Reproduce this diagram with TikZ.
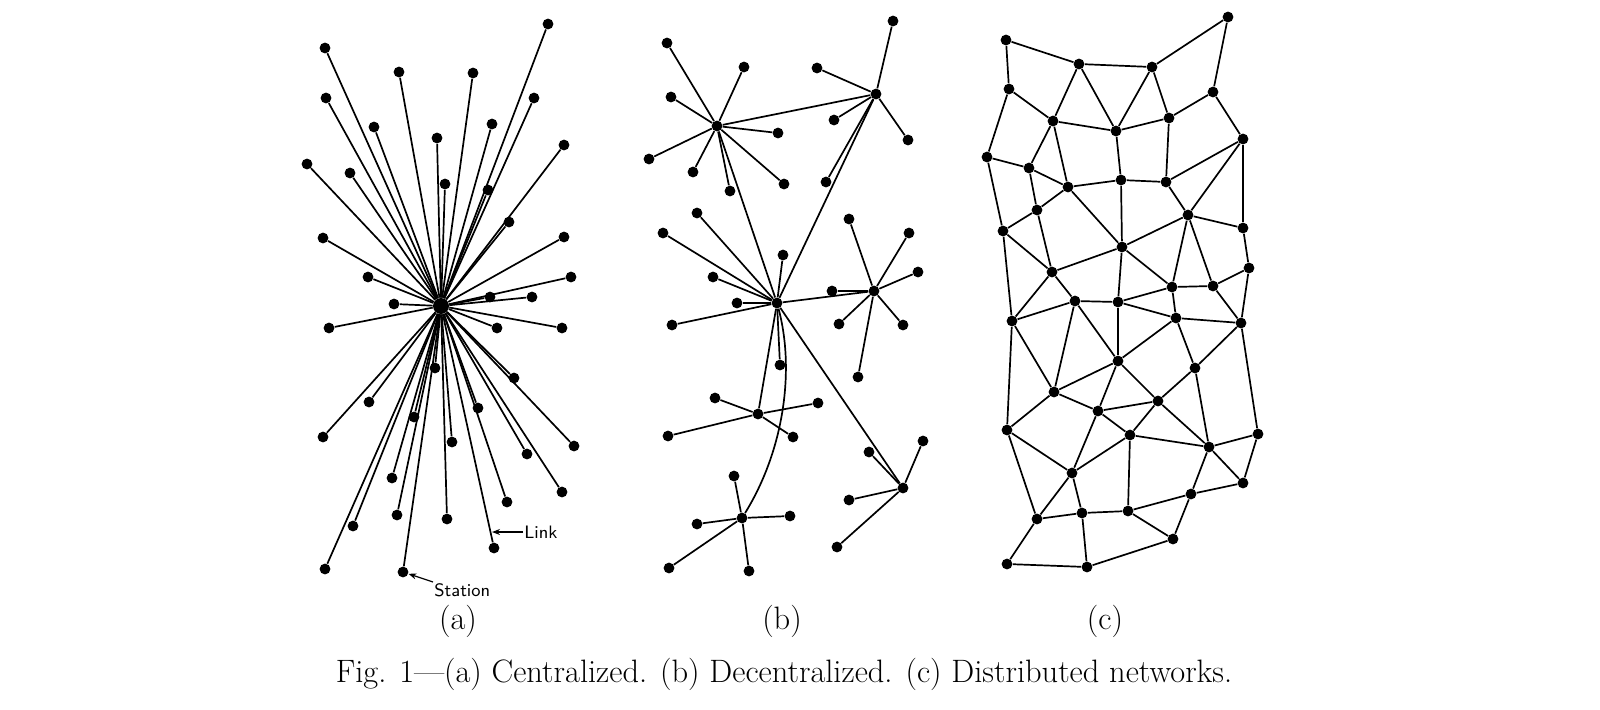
\documentclass[tikz,border=0pt]{standalone}
\usetikzlibrary{arrows.meta}
\tikzset{
  station/.style={circle, fill=black, inner sep=0pt, minimum size=5.4pt},
  link/.style={line width=0.85pt},
  tag/.style={font=\sffamily\fontsize{9}{10}\selectfont, inner sep=0.5pt},
  pointer/.style={line width=0.6pt, -{Stealth[length=4pt,width=3pt]}},
  caption/.style={font=\fontsize{16.2}{18}\selectfont, inner sep=0pt},
}
\begin{document}
\begin{tikzpicture}[x=0.5pt, y=-0.5pt]
  \useasboundingbox (0,0) rectangle (1600,709);

  % (a) centralized: every station wired to the hub
  \node[station, minimum size=8pt] (hub) at (441,306) {};
  \foreach \x/\y [count=\i] in {325/48, 548/24, 399/72, 473/73, 326/98, 534/98,
      374/127, 492/124, 437/138, 564/145, 307/164, 350/173, 445/184, 488/190,
      509/222, 323/238, 564/237, 368/277, 571/277, 490/297, 532/297, 394/304,
      329/328, 497/328, 562/328, 435/368, 514/378, 369/402, 414/417, 478/408,
      323/437, 452/442, 574/446, 527/454, 392/478, 562/492, 507/502, 397/515,
      447/519, 353/526, 494/548, 325/569, 403/572}{
    \node[station] (a\i) at (\x,\y) {};
    \draw[link] (hub) -- (a\i);
  }

  % Label one link and one station
  \coordinate (linkpt) at (492,532);
  \node[tag, anchor=west] (linktag) at (523,532) {Link};
  \draw[pointer] (linktag.west) -- (linkpt);
  \node[tag, anchor=north west] (stationtag) at (433,582) {Station};
  \draw[pointer] (stationtag.north west) -- (a43);

  % (b) decentralized: small stars joined hub to hub
  \def\cluster#1#2{%
    \foreach \x/\y [count=\i] in {#2}{
      \node[station] (#1s\i) at (\x,\y) {};
      \draw[link] (#1) -- (#1s\i);
    }}
  \foreach \n/\x/\y in {b1/717/126, b2/876/94, b3/777/303, b4/874/291,
      b5/758/414, b6/742/518, b7/903/488}
    \node[station] (\n) at (\x,\y) {};
  \cluster{b1}{667/43, 744/67, 671/97, 778/133, 649/159, 693/172, 730/191, 784/184}
  \cluster{b2}{893/21, 817/68, 834/120, 908/140, 826/182}
  \cluster{b3}{697/213, 663/233, 783/255, 713/277, 737/303, 672/325, 780/365}
  \cluster{b4}{849/219, 909/233, 918/272, 832/291, 839/324, 903/325, 858/377}
  \cluster{b5}{715/398, 818/403, 668/436, 793/437}
  \cluster{b6}{734/476, 697/524, 790/516, 669/568, 749/571}
  \cluster{b7}{869/452, 923/441, 849/500, 837/547}
  \draw[link] (b1) -- (b2) (b1) -- (b3) (b2) -- (b3)
              (b3) -- (b4) (b3) -- (b5) (b3) -- (b7);
  \draw[link] (b3) .. controls (795,370) and (784,450) .. (b6);

  % (c) distributed: a mesh, no hub at all
  \foreach \x/\y [count=\i] in {1006/40, 1228/17, 1079/64, 1152/67, 1009/89,
      1213/92, 1053/121, 1169/118, 1116/131, 1243/139, 987/157, 1029/168,
      1068/187, 1121/180, 1166/182, 1037/210, 1188/215, 1003/231, 1243/228,
      1122/247, 1052/272, 1249/268, 1172/287, 1213/286, 1075/301, 1118/302,
      1012/321, 1176/318, 1241/323, 1118/361, 1195/368, 1054/392, 1158/401,
      1098/411, 1007/430, 1130/435, 1258/434, 1209/447, 1072/473, 1243/483,
      1191/494, 1037/519, 1082/513, 1128/511, 1173/539, 1007/564, 1087/567}
    \node[station] (c\i) at (\x,\y) {};
  \foreach \u/\v in {1/5, 1/3, 3/4, 4/2, 2/6, 3/7, 3/9, 4/9, 4/8, 5/7, 5/11,
      7/9, 9/8, 8/6, 6/10, 7/12, 7/13, 9/14, 8/15, 11/12, 11/18, 12/13, 12/16,
      13/14, 14/15, 15/10, 10/17, 10/19, 15/17, 16/13, 16/18, 16/21, 13/20,
      14/20, 17/20, 17/19, 17/23, 17/24, 19/22, 18/21, 18/27, 20/21, 20/26,
      20/23, 21/25, 21/27, 22/24, 22/29, 23/24, 23/26, 23/28, 24/29, 25/26,
      25/27, 25/32, 25/30, 26/30, 26/28, 27/32, 27/35, 28/29, 28/31, 28/30,
      29/31, 29/37, 30/32, 30/34, 30/33, 31/33, 31/38, 32/34, 32/35, 34/33,
      34/36, 34/39, 33/36, 33/38, 36/38, 36/39, 36/44, 35/39, 35/42, 37/38,
      37/40, 38/40, 38/41, 39/42, 39/43, 42/43, 43/44, 44/41, 41/40, 44/45,
      41/45, 42/46, 43/47, 46/47, 47/45}
    \draw[link] (c\u) -- (c\v);

  % Panel letters and the figure caption
  \node[caption] (capa) at (458,621) {(a)};
  \node[caption] (capb) at (782,621) {(b)};
  \node[caption] (capc) at (1105,621) {(c)};
  \node[caption] (figcap) at (784,674)
    {Fig. 1---(a) Centralized. (b) Decentralized. (c) Distributed networks.};
\end{tikzpicture}
\end{document}
